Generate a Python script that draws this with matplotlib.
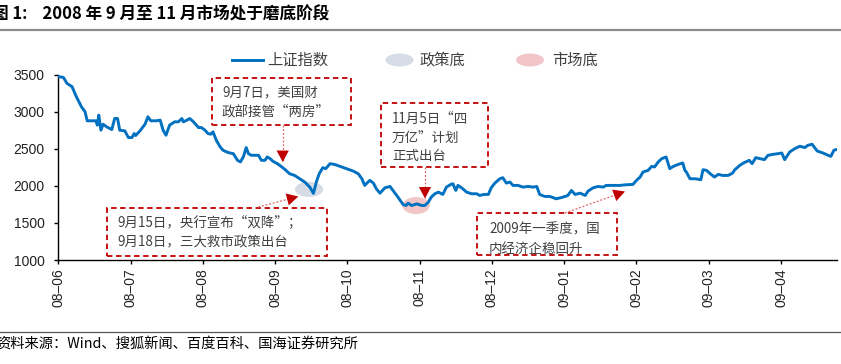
import matplotlib
matplotlib.use("Agg")
import matplotlib.pyplot as plt
from matplotlib.patches import Rectangle, Ellipse, FancyArrowPatch
from matplotlib.lines import Line2D

plt.rcParams['font.family'] = ['Liberation Sans', 'Noto Sans CJK SC', 'DejaVu Sans']

# ---------------- data ----------------
# x position in months since 2008-06 (tick i = month i)
month_pos = [0.00, 0.07, 0.12, 0.19, 0.25, 0.32, 0.37, 0.40, 0.48, 0.52, 0.54, 0.56, 0.59, 0.62, 0.67,
             0.74, 0.78, 0.82, 0.85, 0.92, 0.97, 1.02, 1.05, 1.07, 1.13, 1.20, 1.24, 1.28, 1.36, 1.41,
             1.45, 1.49, 1.54, 1.61, 1.66, 1.71, 1.73, 1.78, 1.82, 1.87, 1.91, 1.94, 1.98, 2.03, 2.07,
             2.11, 2.14, 2.19, 2.24, 2.28, 2.33, 2.37, 2.42, 2.48, 2.52, 2.56, 2.60, 2.63, 2.67, 2.72,
             2.77, 2.81, 2.86, 2.89, 2.93, 2.97, 3.03, 3.09, 3.14, 3.20, 3.27, 3.34, 3.41, 3.48, 3.53,
             3.57, 3.61, 3.66, 3.70, 3.76, 3.83, 3.90, 3.99, 4.08, 4.15, 4.20, 4.24, 4.27, 4.31, 4.36,
             4.40, 4.45, 4.52, 4.59, 4.63, 4.70, 4.77, 4.81, 4.84, 4.89, 4.96, 5.03, 5.07, 5.12, 5.16,
             5.21, 5.26, 5.32, 5.37, 5.43, 5.46, 5.50, 5.53, 5.58, 5.65, 5.72, 5.79, 5.83, 5.89, 5.95,
             5.99, 6.04, 6.11, 6.15, 6.20, 6.25, 6.29, 6.36, 6.43, 6.50, 6.57, 6.62, 6.66, 6.73, 6.80,
             6.89, 6.98, 7.05, 7.10, 7.15, 7.22, 7.29, 7.33, 7.40, 7.47, 7.54, 7.58, 7.65, 7.77, 7.86,
             7.95, 8.00, 8.05, 8.09, 8.16, 8.21, 8.25, 8.30, 8.35, 8.41, 8.46, 8.51, 8.58, 8.64, 8.67,
             8.69, 8.74, 8.81, 8.89, 8.92, 8.97, 9.02, 9.08, 9.13, 9.19, 9.27, 9.33, 9.36, 9.43, 9.48,
             9.56, 9.60, 9.65, 9.71, 9.77, 9.82, 9.89, 9.96, 10.01, 10.05, 10.12, 10.19, 10.26, 10.33,
             10.37, 10.43, 10.50, 10.58, 10.65, 10.69, 10.73, 10.76]
sse_index = [3477, 3468, 3387, 3342, 3206, 3071, 3003, 2881, 2881, 2881, 2822, 2958, 2754, 2835, 2799,
             2763, 2912, 2912, 2754, 2745, 2655, 2655, 2709, 2682, 2745, 2835, 2935, 2881, 2881, 2890,
             2754, 2686, 2822, 2867, 2867, 2912, 2867, 2890, 2912, 2867, 2822, 2790, 2790, 2754, 2709,
             2700, 2732, 2610, 2528, 2483, 2460, 2447, 2438, 2347, 2325, 2393, 2519, 2438, 2415, 2415,
             2415, 2347, 2347, 2393, 2370, 2334, 2302, 2260, 2220, 2166, 2143, 2098, 2053, 1985, 1900,
             2053, 2166, 2248, 2234, 2302, 2289, 2265, 2234, 2202, 2166, 2098, 2008, 2039, 2076, 2039,
             1963, 1903, 1976, 1994, 1940, 1849, 1750, 1736, 1767, 1736, 1759, 1736, 1736, 1781, 1849,
             1895, 1917, 1886, 1985, 2021, 2030, 1940, 2008, 1976, 1917, 1895, 1895, 1872, 1886, 1886,
             1976, 2039, 2098, 2112, 2039, 2053, 2008, 2008, 1985, 1994, 1985, 1994, 1886, 1859, 1859,
             1827, 1849, 1872, 1940, 1886, 1903, 1872, 1931, 1976, 1994, 1985, 2008, 2008, 2008, 2017,
             2021, 2076, 2121, 2189, 2211, 2265, 2257, 2324, 2370, 2392, 2234, 2265, 2293, 2311, 2211,
             2189, 2098, 2098, 2085, 2220, 2211, 2166, 2121, 2157, 2143, 2143, 2175, 2220, 2279, 2311,
             2347, 2302, 2383, 2370, 2356, 2415, 2428, 2437, 2446, 2356, 2460, 2505, 2537, 2519,
             2550, 2564, 2473, 2446, 2415, 2401, 2482, 2491]
month_labels = ['08–06', '08–07', '08–08', '08–09', '08–10', '08–11',
                '08–12', '09–01', '09–02', '09–03', '09–04']
y_ticks = [1000, 1500, 2000, 2500, 3000, 3500]

# highlighted bottoms: (center month, center value, width in months, height in index points)
policy_bottom = (3.47, 1954, 0.39, 205)
market_bottom = (4.95, 1736, 0.38, 230)

series_name = '上证指数'
policy_name = '政策底'
market_name = '市场底'
title_text = '图 1:    2008 年 9 月至 11 月市场处于磨底阶段'
source_text = '资料来源：Wind、搜狐新闻、百度百科、国海证券研究所'
notes = [
    '9月7日，美国财\n政部接管“两房”',
    '9月15日，央行宣布“双降”；\n9月18日，三大救市政策出台',
    '11月5日“四\n万亿”计划\n正式出台',
    '2009年一季度，国\n内经济企稳回升',
]

# ---------------- figure ----------------
W, H = 841, 364
fig = plt.figure(figsize=(W / 100, H / 100), dpi=100)


def fx(x):
    return x / W


def fy(y):
    return 1 - y / H


ax = fig.add_axes([fx(58.3), fy(260), (836.7 - 58.3) / W, (260 - 75) / H])
BLUE = '#0070C0'
GRAY_E = '#D6DCE5'
PINK_E = '#F2C6C8'
RED = '#C00000'
TXT = '#404040'
CJK = ['Noto Sans CJK SC', 'DejaVu Sans']

ax.plot(month_pos, sse_index, color=BLUE, lw=2.1, zorder=3, solid_joinstyle='round')
for (cx, cy, w, h), col in [(policy_bottom, GRAY_E), (market_bottom, PINK_E)]:
    ax.add_patch(Ellipse((cx, cy), w, h, facecolor=col, edgecolor='none', zorder=2))

ax.set_xlim(0, 10.77)
ax.set_ylim(1000, 3500)
ax.set_xticks(range(len(month_labels)))
ax.set_xticklabels(month_labels, rotation=90, fontsize=10, family='Liberation Sans')
ax.set_yticks(y_ticks)
ax.set_yticklabels([str(v) for v in y_ticks], fontsize=10, family='Liberation Sans')
for s in ['top', 'right']:
    ax.spines[s].set_visible(False)
for s in ['left', 'bottom']:
    ax.spines[s].set_linewidth(1.0)
    ax.spines[s].set_color('black')
ax.tick_params(axis='x', direction='out', length=3, width=1.0, pad=3, colors='black')
ax.tick_params(axis='y', direction='out', length=3, width=1.0, pad=7, colors='black')
ax.tick_params(axis='both', labelcolor='#222222')

# ---------------- legend (manual) ----------------
fig.add_artist(Line2D([fx(232), fx(263)], [fy(60), fy(60)], color=BLUE, lw=2.1))
fig.text(fx(267), fy(60), series_name, fontsize=11, color=TXT, va='center', ha='left', family=CJK)
fig.add_artist(Ellipse((fx(399.5), fy(60)), 28 / W, 13 / H, transform=fig.transFigure,
                       facecolor=GRAY_E, edgecolor='none'))
fig.text(fx(420), fy(60), policy_name, fontsize=11, color=TXT, va='center', ha='left', family=CJK)
fig.add_artist(Ellipse((fx(530), fy(60)), 28 / W, 13 / H, transform=fig.transFigure,
                       facecolor=PINK_E, edgecolor='none'))
fig.text(fx(552), fy(60), market_name, fontsize=11, color=TXT, va='center', ha='left', family=CJK)

# ---------------- annotation boxes ----------------
boxes = [  # (left, top, right, bottom) in pixels, text left, text center y
    ((212.3, 78.3, 350.7, 124.5), 222, 102.0),
    ((106.7, 208.3, 326.7, 256.0), 117, 233.0),
    ((381.0, 102.7, 488.3, 167.3), 392, 137.5),
    ((477.3, 213.3, 616.7, 255.0), 489, 239.0),
]

for note, ((l, t, r, b), tx, ty) in zip(notes, boxes):
    fig.add_artist(Rectangle((fx(l), fy(b)), (r - l) / W, (b - t) / H, transform=fig.transFigure,
                             facecolor='none', edgecolor=RED, lw=1.3, linestyle=(0, (3, 2)), zorder=5))
    fig.text(fx(tx), fy(ty), note, fontsize=9.7, color=TXT, va='center', ha='left',
             linespacing=1.45, family=CJK, zorder=6)

arrows = [  # start, tip in pixels
    ((282.7, 124.5), (282.7, 162.0)),
    ((258.3, 207.0), (298.3, 196.5)),
    ((425.0, 167.3), (425.0, 198.5)),
    ((565.0, 213.0), (625.0, 191.5)),
]
for (x0, y0), (x1, y1) in arrows:
    fig.add_artist(Line2D([fx(x0), fx(x1)], [fy(y0), fy(y1)], color='#E06060', lw=0.9,
                          linestyle=(0, (1.5, 1.5)), zorder=6))
    dx, dy = x1 - x0, y1 - y0
    n = (dx * dx + dy * dy) ** 0.5
    xs, ys = x1 - dx / n * 10, y1 - dy / n * 10
    fig.add_artist(FancyArrowPatch((fx(xs), fy(ys)), (fx(x1), fy(y1)), transform=fig.transFigure,
                                   arrowstyle='-|>,head_length=0.75,head_width=0.4',
                                   mutation_scale=11, color=RED, lw=0, shrinkA=0, shrinkB=0, zorder=7))

# ---------------- title / source ----------------
fig.text(fx(-8), fy(15), title_text, fontsize=12, fontweight='bold', color='black',
         va='center', ha='left', family=CJK)
fig.add_artist(Line2D([0, 1], [fy(29.5), fy(29.5)], color='#8C8C8C', lw=1.6))
fig.add_artist(Line2D([0, 1], [fy(332), fy(332)], color='#555555', lw=0.9))
fig.text(fx(-4), fy(345), source_text, fontsize=10.3, color='black', va='center', ha='left', family=CJK)

fig.savefig('out.png', dpi=100)
